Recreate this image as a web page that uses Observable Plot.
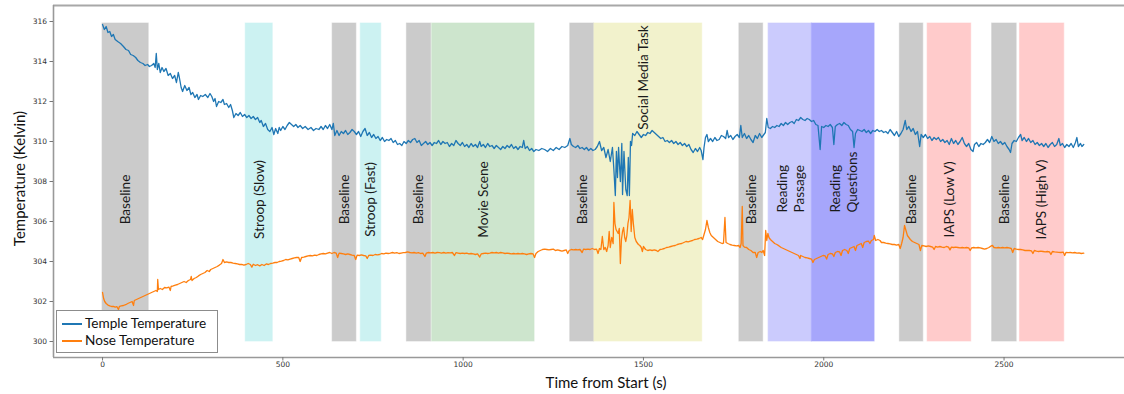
<!DOCTYPE html>
<html><head><meta charset="utf-8">
<script src="https://cdn.jsdelivr.net/npm/d3@7"></script>
<script src="https://cdn.jsdelivr.net/npm/@observablehq/plot@0.6"></script>
<style>
body{margin:0;background:#fff;}
#wrap{position:relative;width:1124px;height:394px;overflow:hidden;background:#fff;}
#legend{position:absolute;left:56px;top:310px;width:162px;height:43px;border:1.5px solid #8c8c8c;background:#fff;box-sizing:border-box;font-family:Lato,"Open Sans",sans-serif;font-size:13.6px;color:#111;}
#legend .row{position:absolute;left:5px;height:17px;line-height:17px;white-space:nowrap;}
#legend .sw{display:inline-block;width:20px;height:2px;vertical-align:middle;margin-right:3px;position:relative;top:-1px;}
</style>
</head><body>
<div id="wrap"><div id="chart"></div><div id="legend"></div></div>
<script>
// ---- data ----
const seriesNames = ["Temple Temperature", "Nose Temperature"];
const xTicks = [0, 500, 1000, 1500, 2000, 2500];
const yTicks = [300, 302, 304, 306, 308, 310, 312, 314, 316];

const bandStart = [0, 397, 638, 716, 844, 914, 1297, 1364, 1766, 1847, 1967, 2211, 2288, 2467, 2544];
const bandEnd   = [128, 472, 704, 773, 911, 1198, 1363, 1663, 1832, 1967, 2141, 2276, 2409, 2535, 2667];
const bandLabel = ["Baseline", "Stroop (Slow)", "Baseline", "Stroop (Fast)", "Baseline", "Movie Scene",
  "Baseline", "Social Media Task", "Baseline", "Reading\nPassage", "Reading\nQuestions",
  "Baseline", "IAPS (Low V)", "Baseline", "IAPS (High V)"];
const bandKind = ["baseline", "stroop", "baseline", "stroop", "baseline", "movie",
  "baseline", "social", "baseline", "passage", "questions", "baseline", "iaps", "baseline", "iaps"];

// [time (s), temperature (K)]
const templeReadings = [
[0,315.85],[5,315.6],[10,315.75],[15,315.45],[20,315.5],[25,315.25],[30,315.35],[35,315.1],[42,315.0],[50,314.9],
[58,314.75],[65,314.6],[72,314.55],[78,314.35],[85,314.3],[92,314.2],[98,314.05],[105,313.95],[112,313.9],[118,313.8],
[125,313.85],[130,313.75],[136,313.8],[142,313.9],[146,313.7],[149,314.4],[152,313.6],[156,313.9],[160,313.45],[165,313.7],
[170,313.5],[176,313.65],[182,313.3],[188,313.4],[194,313.15],[200,313.3],[205,312.95],[210,313.45],[213,313.2],[218,312.7],
[222,312.5],[228,312.8],[234,312.55],[240,312.7],[245,312.35],[250,312.45],[256,312.2],[262,312.35],[266,312.1],[272,312.3],
[278,312.25],[285,312.35],[292,312.2],[298,312.4],[303,312.25],[308,312.0],[312,312.15],[316,311.75],[322,312.0],[328,311.95],
[334,312.1],[338,311.85],[344,311.9],[350,311.7],[355,311.85],[360,311.55],[364,311.2],[370,311.4],[376,311.3],[382,311.45],
[388,311.25],[394,311.35],[400,311.2],[406,311.3],[412,311.15],[418,311.25],[424,311.1],[430,311.2],[436,310.95],[440,311.05],
[446,310.75],[452,310.9],[458,310.6],[464,310.5],[470,310.7],[475,310.35],[480,310.65],[486,310.4],[490,310.7],[494,310.55],
[500,310.75],[506,310.6],[512,310.8],[518,310.95],[524,310.85],[530,310.75],[536,310.85],[542,310.7],[548,310.8],[555,310.65],
[562,310.75],[570,310.6],[578,310.7],[585,310.55],[592,310.65],[600,310.6],[606,310.75],[612,310.6],[618,310.8],[624,310.65],
[630,310.85],[636,310.6],[640,310.9],[644,310.3],[650,310.55],[656,310.3],[662,310.5],[668,310.4],[674,310.55],[680,310.35],
[686,310.45],[692,310.6],[698,310.5],[704,310.35],[710,310.5],[716,310.25],[722,310.5],[728,310.65],[734,310.3],[740,310.45],
[746,310.2],[752,310.35],[758,310.15],[764,310.25],[770,310.05],[776,310.2],[782,310.0],[788,310.1],[794,310.05],[800,310.15],
[806,309.95],[812,310.05],[818,309.85],[824,309.9],[830,309.8],[836,310.0],[842,309.9],[848,310.05],[854,309.95],[860,310.1],
[866,310.15],[872,309.95],[878,310.05],[884,309.8],[890,309.9],[896,310.0],[902,309.85],[908,309.95],[914,309.8],[920,309.95],
[926,309.9],[932,310.05],[938,309.85],[944,310.0],[950,309.9],[956,309.95],[962,309.75],[968,309.9],[974,309.8],[980,310.05],
[986,309.9],[992,309.8],[998,309.95],[1004,309.75],[1010,309.85],[1016,309.7],[1022,309.9],[1028,309.75],[1034,309.85],[1040,309.7],
[1046,310.0],[1050,309.75],[1056,309.85],[1062,309.7],[1068,309.9],[1074,309.75],[1080,309.8],[1086,309.65],[1092,309.8],[1098,309.7],
[1104,309.6],[1110,309.75],[1116,309.65],[1122,309.8],[1128,309.7],[1134,309.85],[1140,309.65],[1146,309.75],[1152,309.6],[1158,309.75],
[1164,309.7],[1168,310.05],[1172,309.65],[1178,309.75],[1184,309.55],[1190,309.65],[1196,309.5],[1202,309.6],[1210,309.55],[1218,309.65],
[1226,309.6],[1234,309.5],[1242,309.65],[1250,309.55],[1258,309.7],[1266,309.6],[1274,309.75],[1282,309.7],[1290,309.8],[1296,310.15],
[1300,309.85],[1306,309.75],[1312,309.7],[1318,309.8],[1324,309.65],[1330,309.7],[1336,309.6],[1342,309.7],[1348,309.55],[1354,309.65],
[1360,309.55],[1366,309.6],[1372,309.75],[1378,310.0],[1384,309.55],[1390,309.7],[1396,309.2],[1402,309.6],[1408,309.0],[1414,309.7],
[1418,308.6],[1422,307.3],[1425,309.5],[1428,308.2],[1431,309.7],[1436,308.0],[1440,309.9],[1442,307.35],[1446,309.5],[1451,307.6],
[1455,307.3],[1458,309.2],[1461,307.3],[1464,310.0],[1467,309.8],[1470,310.4],[1476,310.3],[1482,310.5],[1488,310.35],[1494,310.2],
[1500,310.35],[1506,310.3],[1512,310.45],[1518,310.4],[1524,310.55],[1530,310.45],[1536,310.35],[1542,310.25],[1548,310.15],[1554,310.2],
[1560,310.0],[1566,310.05],
[1572,309.95],[1578,310.05],[1584,309.9],[1590,310.0],[1596,309.85],[1602,309.95],[1608,309.8],[1614,309.9],[1620,309.75],[1626,309.85],
[1632,309.6],[1638,309.45],[1644,309.65],[1650,309.5],[1656,309.7],[1660,309.55],[1665,309.1],[1668,309.7],[1672,310.2],[1676,310.35],
[1680,310.0],[1686,310.15],[1692,310.0],[1698,310.2],[1704,310.05],[1710,310.1],[1716,310.3],[1722,310.25],[1728,310.15],[1732,310.55],
[1736,310.2],[1742,310.3],[1748,310.1],[1754,310.25],[1760,310.35],[1766,310.2],[1770,310.8],[1774,310.2],[1780,310.4],[1786,310.15],
[1792,310.3],[1798,310.1],[1804,309.95],[1810,310.3],[1816,310.15],[1822,310.4],[1828,310.2],[1834,310.35],[1838,310.45],[1842,311.15],
[1846,310.7],[1852,310.65],[1858,310.75],[1864,310.7],[1870,310.8],[1876,310.75],[1882,310.9],[1888,310.8],[1894,310.95],[1900,310.85],
[1906,310.95],[1912,311.0],[1918,310.9],[1924,311.1],[1930,311.05],[1936,311.2],[1942,311.1],[1948,311.05],[1954,311.15],[1960,311.1],
[1966,311.0],[1972,311.05],[1978,310.85],[1984,310.8],[1990,309.6],[1994,310.75],[2000,310.7],[2006,310.8],[2012,310.75],[2018,310.85],
[2024,310.7],[2028,309.85],[2032,310.75],[2038,310.85],[2044,310.9],[2050,310.8],[2056,310.95],[2062,310.85],[2068,310.8],[2074,310.6],
[2080,310.5],[2084,309.7],[2088,310.4],[2094,310.6],[2100,310.55],[2106,310.5],[2112,310.6],[2118,310.45],[2124,310.55],[2130,310.4],
[2136,310.55],[2142,310.5],[2148,310.6],[2154,310.5],[2160,310.55],[2166,310.45],[2172,310.5],[2178,310.4],[2184,310.6],[2190,310.45],
[2196,310.3],[2202,310.5],[2208,310.25],[2214,310.4],[2220,310.6],[2226,311.05],[2230,310.6],[2236,310.75],[2242,310.5],[2248,310.65],
[2254,310.35],[2260,310.5],[2266,309.75],[2270,310.35],[2276,310.2],[2282,310.35],[2288,310.15],[2294,310.25],[2300,310.05],[2306,310.2],
[2312,310.1],[2318,310.2],[2324,310.0],[2330,310.1],[2336,309.95],[2342,310.05],[2348,309.85],[2354,310.15],[2360,309.9],[2366,310.05],
[2372,309.85],[2378,310.0],[2384,310.2],[2390,309.9],[2396,309.75],[2402,309.9],[2408,309.6],[2414,309.5],[2418,309.85],[2424,309.95],
[2430,309.75],[2436,309.9],[2442,309.85],[2448,309.95],[2454,310.1],[2460,309.95],[2466,310.25],[2472,310.0],[2478,310.1],[2484,309.9],
[2490,310.0],[2496,309.85],[2502,309.95],[2508,309.75],[2514,309.6],[2518,309.45],[2522,309.9],[2528,310.05],[2534,310.0],[2540,310.2],
[2546,310.35],[2550,310.05],[2556,310.2],[2562,310.0],[2568,310.15],[2574,309.95],[2580,310.05],[2586,309.85],[2592,309.95],[2598,309.8],
[2604,309.9],[2610,309.75],[2616,309.9],[2622,309.7],[2628,309.85],[2634,309.95],[2640,309.75],[2646,309.85],[2652,310.15],[2656,309.8],
[2662,309.9],[2668,309.7],[2674,309.85],[2680,309.75],[2686,309.9],[2692,309.7],[2698,309.95],[2702,310.2],[2706,309.75],[2712,309.9],
[2716,309.75],[2721,309.85]
];

const noseReadings = [
[0,302.45],[3,302.15],[6,302.0],[10,301.9],[15,301.82],[20,301.78],[25,301.75],[30,301.76],[35,301.72],[40,301.74],
[44,301.6],[47,301.76],[52,301.78],[58,301.8],[64,301.84],[70,301.9],[76,301.95],[82,302.0],[86,301.8],[88,302.05],
[94,302.1],[100,302.15],[106,302.2],[112,302.25],[118,302.3],[124,302.35],[130,302.4],[136,302.45],[142,302.5],[148,302.55],
[152,302.5],[153,303.1],[155,302.6],[160,302.65],[166,302.6],[172,302.7],[178,302.68],[184,302.72],[188,302.55],[190,302.75],
[196,302.78],[202,302.82],[208,302.85],[214,302.9],[220,302.95],[226,303.0],[232,302.95],[238,303.05],[244,303.1],[246,303.25],
[248,303.05],[254,303.15],[260,303.2],[266,303.28],[272,303.35],[278,303.4],[284,303.45],[290,303.55],[296,303.5],[300,303.6],
[306,303.65],[312,303.7],[318,303.75],[324,303.82],[330,303.9],[334,304.1],[338,303.95],[344,303.98],[350,303.95],[356,303.95],
[362,303.92],[368,303.9],[374,303.88],[380,303.85],[386,303.86],[392,303.82],[398,303.85],[404,303.9],[410,303.85],[414,303.72],
[418,303.86],[424,303.8],[430,303.84],[436,303.78],[442,303.85],[448,303.8],[454,303.88],[460,303.85],[466,303.9],[472,303.92],
[478,303.95],[484,303.95],[490,304.0],[496,304.02],[502,304.05],[508,304.1],[514,304.08],[520,304.12],[526,304.15],[532,304.18],
[538,304.2],[544,304.2],[548,304.0],[552,304.2],[558,304.22],[564,304.25],[570,304.28],[576,304.3],[582,304.28],[588,304.32],
[594,304.3],[600,304.35],[606,304.38],[612,304.4],[618,304.38],[624,304.42],[630,304.45],[636,304.4],[642,304.45],[648,304.42],
[652,304.2],[656,304.42],[662,304.4],[668,304.38],[674,304.35],[680,304.38],[686,304.35],[692,304.32],[698,304.3],[702,304.1],
[706,304.32],[712,304.3],[718,304.33],[724,304.3],[730,304.28],[734,304.15],[738,304.3],[744,304.32],[750,304.3],[756,304.35],
[762,304.33],[768,304.35],[774,304.4],[780,304.38],[786,304.42],[792,304.4],[798,304.42],[804,304.45],[810,304.42],[816,304.44],
[822,304.4],[828,304.42],[834,304.44],[840,304.45],[846,304.48],[852,304.45],[858,304.43],[864,304.45],[870,304.42],[876,304.44],
[882,304.4],[888,304.42],[894,304.25],[898,304.42],[904,304.45],[910,304.43],[916,304.45],[922,304.42],[928,304.45],[934,304.44],
[940,304.42],[946,304.45],[952,304.42],[958,304.44],[964,304.43],[970,304.45],[976,304.3],[980,304.44],[986,304.42],[992,304.4],
[998,304.42],[1004,304.4],[1010,304.42],[1016,304.38],[1022,304.4],[1028,304.38],[1034,304.35],[1040,304.38],[1046,304.22],[1050,304.38],
[1056,304.4],[1062,304.42],[1068,304.4],[1074,304.42],[1080,304.45],[1086,304.43],[1092,304.45],[1098,304.42],[1104,304.45],[1110,304.43],
[1116,304.4],[1122,304.42],[1128,304.4],[1134,304.38],[1140,304.4],[1146,304.38],[1152,304.4],[1158,304.38],[1164,304.4],[1170,304.38],
[1176,304.35],[1182,304.38],[1188,304.4],[1194,304.38],[1198,304.2],[1202,304.4],[1208,304.5],[1214,304.55],[1220,304.6],[1226,304.62],
[1232,304.6],[1238,304.58],[1244,304.6],[1250,304.62],[1256,304.55],[1262,304.58],[1268,304.55],[1274,304.52],[1280,304.55],[1286,304.58],
[1290,304.4],[1294,304.55],[1300,304.6],[1306,304.58],[1312,304.6],[1318,304.58],[1324,304.6],[1330,304.45],[1334,304.62],[1340,304.6],
[1346,304.62],[1352,304.6],[1358,304.65],[1364,304.6],[1370,304.62],[1374,304.4],[1378,304.65],[1382,304.6],[1386,305.25],[1390,304.6],
[1394,304.7],[1398,304.5],[1402,304.8],[1405,305.5],[1408,304.7],[1412,305.2],[1416,304.9],[1418,306.95],[1421,305.9],[1424,305.6],
[1427,305.5],[1430,305.4],[1433,305.65],[1436,303.9],[1439,305.1],[1442,305.5],[1445,305.7],[1448,305.2],[1451,305.0],[1454,305.3],
[1457,305.9],[1460,306.2],[1463,307.05],[1466,305.5],[1469,306.6],[1472,305.9],[1476,305.2],[1480,305.0],[1486,304.85],[1490,304.8],
[1494,304.7],[1497,304.5],[1500,304.75],[1506,304.6],[1512,304.55],[1518,304.58],[1524,304.55],[1530,304.58],[1536,304.55],[1540,304.5],
[1546,304.6],[1552,304.62],[1558,304.65],[1564,304.7],[1570,304.72],[1576,304.75],[1582,304.78],[1588,304.8],[1594,304.85],[1600,304.88],
[1606,304.9],[1612,304.95],[1618,305.0],[1624,304.98],[1630,305.02],[1636,305.05],[1642,305.1],[1648,305.12],[1654,305.15],[1660,305.2],
[1664,305.1],[1668,305.35],[1672,305.6],[1676,306.05],[1680,305.7],[1684,305.45],[1688,305.3],[1694,305.2],[1700,305.1],[1706,305.0],
[1712,304.95],[1718,304.9],[1722,304.92],[1726,306.2],[1729,304.95],[1734,304.9],[1740,304.85],[1746,304.82],[1752,304.8],[1758,304.78],
[1764,304.8],[1768,304.7],[1771,304.9],[1774,306.75],[1776,304.8],[1780,304.72],[1786,304.7],[1792,304.6],[1798,304.55],[1804,304.45],
[1810,304.45],[1814,304.2],[1818,304.45],[1824,304.5],[1828,304.45],[1832,304.55],[1836,304.3],[1839,305.55],[1842,305.05],[1845,305.4],
[1848,305.2],[1852,305.1],[1858,305.0],[1864,304.9],[1870,304.85],[1876,304.78],[1882,304.7],[1888,304.65],[1894,304.6],[1900,304.55],
[1906,304.5],[1912,304.45],[1918,304.4],[1924,304.35],[1930,304.3],[1934,304.15],[1936,304.3],[1942,304.25],[1948,304.2],[1954,304.18],
[1960,304.15],[1966,304.12],[1970,303.95],[1974,304.1],[1980,304.15],[1986,304.2],[1992,304.25],[1998,304.3],[2004,304.28],[2008,304.12],
[2012,304.35],[2018,304.4],[2024,304.38],[2028,304.25],[2032,304.45],[2038,304.5],[2044,304.48],[2048,304.3],[2052,304.55],[2058,304.6],
[2064,304.55],[2068,304.4],[2072,304.65],[2078,304.7],[2084,304.75],[2088,304.55],[2092,304.8],[2098,304.85],[2104,304.9],[2108,304.7],
[2112,304.95],[2118,305.0],[2124,305.02],[2128,304.9],[2132,305.05],[2138,305.1],[2140,305.3],[2144,305.05],[2150,305.1],[2156,305.05],
[2160,304.95],[2166,304.95],[2172,304.92],[2178,304.9],[2184,304.88],[2190,304.85],[2196,304.85],[2202,304.82],[2208,304.85],[2212,304.65],
[2216,304.9],[2220,305.2],[2224,305.8],[2228,305.55],[2232,305.3],[2236,305.2],[2240,305.1],[2246,305.0],[2252,304.95],[2258,304.9],
[2264,304.85],[2268,304.55],[2272,304.8],[2278,304.78],[2284,304.75],[2290,304.78],[2296,304.75],[2302,304.72],[2306,304.6],[2310,304.75],
[2316,304.72],[2322,304.75],[2328,304.72],[2334,304.7],[2340,304.75],[2346,304.72],[2350,304.58],[2354,304.72],[2360,304.7],[2366,304.72],
[2372,304.7],[2378,304.68],[2384,304.7],[2390,304.68],[2396,304.7],[2402,304.68],[2406,304.55],[2410,304.68],[2416,304.7],[2422,304.68],
[2428,304.7],[2434,304.68],[2440,304.65],[2446,304.62],[2452,304.65],[2458,304.7],[2464,304.78],[2468,304.8],[2472,304.7],[2478,304.68],
[2484,304.7],[2490,304.68],[2496,304.7],[2502,304.68],[2508,304.7],[2514,304.68],[2520,304.65],[2524,304.45],[2528,304.65],[2534,304.62],
[2540,304.6],[2546,304.6],[2552,304.58],[2558,304.55],[2564,304.56],[2570,304.55],[2576,304.53],[2580,304.4],[2584,304.55],[2590,304.52],
[2596,304.5],[2602,304.52],[2608,304.5],[2614,304.48],[2620,304.5],[2626,304.48],[2630,304.35],[2634,304.5],[2640,304.48],[2646,304.47],
[2652,304.46],[2658,304.45],[2664,304.47],[2668,304.3],[2672,304.46],[2678,304.44],[2684,304.45],[2690,304.43],[2696,304.45],[2702,304.42],
[2708,304.43],[2714,304.4],[2721,304.42]
];

// ---- styles ----
const seriesColor = ["#1f77b4", "#ff7f0e"];
const kindFill = {baseline:"#cbcbcb", stroop:"#ccf2f2", movie:"#cde5cd", social:"#f2f2cc",
  passage:"#cbcbfd", questions:"#a6a6fb", iaps:"#ffcbcb"};
const FONT = "Lato, 'Open Sans', sans-serif";

const xDomain = [-136, 2834];
const yDomain = [299.2, 316.8];
const bandBottom = d3.min(yTicks);
const bandTop = d3.max(templeReadings, d => d[1]) + 0.05;
const labelLevel = 307.1, labelLevelHigh = 313.2, labelBase2 = 306.45;

const bands = bandStart.map((s, i) => ({x1: s, x2: bandEnd[i], label: bandLabel[i], kind: bandKind[i]}));
const single = bands.filter(d => !d.label.includes("\n"));
const multi = bands.filter(d => d.label.includes("\n"));

const chart = Plot.plot({
  width: 1124, height: 394,
  marginLeft: 53, marginRight: 0, marginTop: 5, marginBottom: 37,
  style: {fontFamily: FONT, background: "#fff", overflow: "visible"},
  x: {domain: xDomain},
  y: {domain: yDomain},
  color: {type: "identity"},
  marks: [
    Plot.rect(bands, {x1: "x1", x2: "x2", y1: bandBottom, y2: bandTop,
      fill: d => kindFill[d.kind], stroke: d => kindFill[d.kind], strokeOpacity: 0.6, inset: 0}),
    Plot.line(templeReadings, {x: d => d[0], y: d => d[1], stroke: seriesColor[0], strokeWidth: 1.3}),
    Plot.line(noseReadings, {x: d => d[0], y: d => d[1], stroke: seriesColor[1], strokeWidth: 1.3}),
    Plot.text(single, {x: d => d.label === "Social Media Task" ? 1500 : (d.x1 + d.x2) / 2,
      y: d => d.label === "Social Media Task" ? labelLevelHigh : labelLevel,
      text: "label", rotate: -90, textAnchor: "middle", lineAnchor: "middle", fontSize: 13.6, fill: "#1a1a1a", fontFamily: FONT}),
    Plot.text(multi, {x: d => (d.x1 + d.x2) / 2, y: labelBase2,
      text: "label", rotate: -90, textAnchor: "start", lineAnchor: "middle", lineHeight: 1.25, fontSize: 13.6, fill: "#1a1a1a", fontFamily: FONT}),
    Plot.ruleY([yDomain[1]], {stroke: "#a8a8a8", strokeWidth: 1.8}),
    Plot.ruleY([yDomain[0]], {stroke: "#999", strokeWidth: 1.6}),
    Plot.ruleX([xDomain[0]], {stroke: "#999", strokeWidth: 1.6}),
    Plot.axisX({ticks: xTicks, tickFormat: d3.format("d"), tickSize: 3.5, tickPadding: 1, fontSize: 7.5, label: null, stroke: "#777", color: "#333", fontFamily: "DejaVu Sans"}),
    Plot.axisY({ticks: yTicks, tickFormat: d3.format("d"), tickSize: 3.5, tickPadding: 3, fontSize: 7.5, label: null, stroke: "#777", color: "#333", fontFamily: "DejaVu Sans"}),
    Plot.text(["Time from Start (s)"], {frameAnchor: "bottom", dx: 17, dy: 26, textAnchor: "middle", lineAnchor: "middle", fontSize: 15, fill: "#111", fontFamily: FONT}),
    Plot.text(["Temperature (Kelvin)"], {frameAnchor: "left", rotate: -90, dx: -33, dy: -3, textAnchor: "middle", lineAnchor: "middle", fontSize: 15, fill: "#111", fontFamily: FONT})
  ]
});
document.getElementById("chart").appendChild(chart);

// legend
const leg = document.getElementById("legend");
seriesNames.forEach((name, i) => {
  const row = document.createElement("div");
  row.className = "row";
  row.style.top = (i === 0 ? 4 : 21) + "px";
  const sw = document.createElement("span");
  sw.className = "sw";
  sw.style.background = seriesColor[i];
  row.appendChild(sw);
  row.appendChild(document.createTextNode(name));
  leg.appendChild(row);
});
</script>
</body></html>
